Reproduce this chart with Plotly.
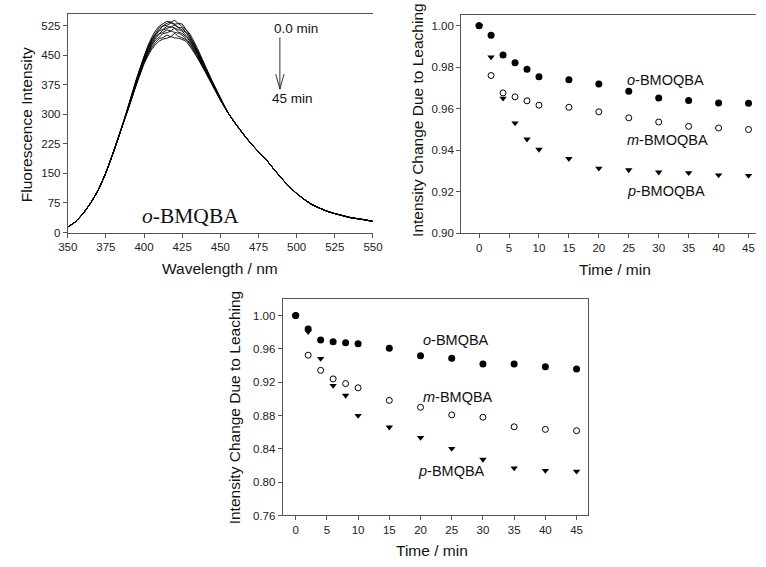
import plotly.graph_objects as go

W, H = 766, 567

# ---------------- data ----------------
# Panel A: fluorescence spectra of o-BMQBA (0 -> 45 min)
wl_left = [350, 355, 360, 365, 370, 375, 380, 385]
base_left = [14, 27, 48, 75, 108, 152, 205, 262]
wl_peak = [390, 395, 400, 402.5, 405, 407.5, 410, 412.5, 415, 417.5, 420,
           422.5, 425, 427.5, 430, 435, 440, 445, 450]
peak_curves = [
    [326, 390, 447, 474, 495, 512, 524, 530, 536, 534, 538, 531, 529, 515, 504, 467, 424, 382, 343],
    [324, 387, 446, 468, 491, 505, 520, 525, 531, 534, 529, 530, 522, 514, 499, 462, 421, 380, 341],
    [323, 386, 443, 467, 487, 503, 514, 524, 526, 531, 528, 521, 519, 508, 497, 460, 420, 379, 340],
    [322, 384, 440, 465, 485, 500, 512, 516, 523, 521, 526, 520, 514, 507, 493, 458, 418, 378, 340],
    [321, 383, 438, 462, 481, 497, 505, 514, 518, 522, 519, 515, 511, 500, 489, 455, 416, 376, 339],
    [320, 381, 436, 458, 478, 492, 504, 508, 514, 512, 518, 509, 505, 497, 486, 452, 414, 375, 338],
    [319, 379, 434, 455, 474, 488, 496, 505, 507, 511, 508, 506, 501, 492, 481, 449, 412, 374, 337],
    [318, 377, 431, 452, 469, 482, 492, 495, 501, 497, 505, 498, 494, 489, 478, 446, 410, 373, 337],
    [317, 375, 428, 448, 465, 477, 486, 491, 493, 497, 494, 493, 490, 485, 473, 443, 408, 372, 336],
]
wl_right = [455, 460, 465, 470, 475, 480, 485, 490, 495, 500, 505, 510, 515,
            520, 525, 530, 535, 540, 545, 550]
base_right = [304, 276, 250, 226, 205, 185, 161, 138, 117, 99, 84, 71, 62,
              54, 48, 43, 38, 35, 32, 28]

# Panel B: BMOQBA leaching
time = [0, 2, 4, 6, 8, 10, 15, 20, 25, 30, 35, 40, 45]
o_bmoqba = [1.000, 0.9954, 0.9859, 0.9822, 0.9790, 0.9754, 0.9739, 0.9719,
            0.9684, 0.9652, 0.9639, 0.9628, 0.9626]
m_bmoqba = [1.000, 0.9760, 0.9676, 0.9657, 0.9638, 0.9617, 0.9607, 0.9585,
            0.9556, 0.9536, 0.9515, 0.9507, 0.9500]
p_bmoqba = [1.000, 0.9849, 0.9650, 0.9531, 0.9453, 0.9404, 0.9359, 0.9313,
            0.9305, 0.9294, 0.9291, 0.9280, 0.9278]

# Panel C: BMQBA leaching
o_bmqba = [1.000, 0.9838, 0.9707, 0.9687, 0.9675, 0.9663, 0.9608, 0.9517,
           0.9489, 0.9418, 0.9418, 0.9386, 0.9358]
m_bmqba = [1.000, 0.9525, 0.9343, 0.9240, 0.9184, 0.9133, 0.8982, 0.8899,
           0.8808, 0.8780, 0.8665, 0.8634, 0.8618]
p_bmqba = [1.000, 0.9806, 0.9485, 0.9160, 0.9042, 0.8800, 0.8661, 0.8535,
           0.8404, 0.8273, 0.8170, 0.8139, 0.8131]

spec_xticks = [350, 375, 400, 425, 450, 475, 500, 525, 550]
spec_yticks = [0, 75, 150, 225, 300, 375, 450, 525]
time_ticks = [0, 5, 10, 15, 20, 25, 30, 35, 40, 45]
b_yticks = [0.90, 0.92, 0.94, 0.96, 0.98, 1.00]
c_yticks = [0.76, 0.80, 0.84, 0.88, 0.92, 0.96, 1.00]

# ---------------- figure ----------------
def px_x(p):
    return p / W

def px_y(p):
    return 1 - p / H

fig = go.Figure()

# spectra
for pc in peak_curves:
    fig.add_trace(go.Scatter(
        x=wl_left + wl_peak + wl_right,
        y=base_left + pc + base_right,
        mode="lines", line=dict(color="black", width=1, shape="spline", smoothing=0.5),
        xaxis="x", yaxis="y", showlegend=False, hoverinfo="skip"))

mk_line = dict(color="black", width=1)
def add_series(xa, ya, t, o, m, p):
    fig.add_trace(go.Scatter(x=t, y=m, mode="markers", xaxis=xa, yaxis=ya,
                             marker=dict(symbol="circle", size=6, color="white", line=mk_line),
                             showlegend=False))
    fig.add_trace(go.Scatter(x=t, y=o, mode="markers", xaxis=xa, yaxis=ya,
                             marker=dict(symbol="circle", size=7, color="black", line=dict(width=0)),
                             showlegend=False))
    fig.add_trace(go.Scatter(x=t, y=p, mode="markers", xaxis=xa, yaxis=ya,
                             marker=dict(symbol="triangle-down", size=6.5, color="black", line=dict(width=0)),
                             showlegend=False))

add_series("x2", "y2", time, o_bmoqba, m_bmoqba, p_bmoqba)
add_series("x3", "y3", time, o_bmqba, m_bmqba, p_bmqba)

axcol = "#555555"
tickfont = dict(family="Liberation Sans, Arial, sans-serif", size=11.5, color="#222222")
common = dict(showgrid=False, zeroline=False, showline=True, linecolor=axcol, linewidth=1,
              ticks="outside", ticklen=4, tickcolor=axcol, tickwidth=1, tickfont=tickfont)

fig.update_layout(
    width=W, height=H, margin=dict(l=0, r=0, t=0, b=0),
    paper_bgcolor="white", plot_bgcolor="white",
    xaxis=dict(domain=[px_x(59.3), px_x(372.7)], range=[350, 550], tickvals=spec_xticks,
               anchor="y", mirror=True, **common),
    yaxis=dict(domain=[px_y(235), px_y(14)], range=[0, 555], tickvals=spec_yticks,
               anchor="x", **common),
    xaxis2=dict(domain=[px_x(463.3), 1.0], range=[-2.99, 46.25], tickvals=time_ticks,
                anchor="y2", mirror=True, **common),
    yaxis2=dict(domain=[px_y(235.7), px_y(15.5)], range=[0.90, 1.005], tickvals=b_yticks,
                tickformat=".2f", anchor="x2", **common),
    xaxis3=dict(domain=[px_x(280), px_x(593.3)], range=[-2.08, 46.8], tickvals=time_ticks,
                anchor="y3", mirror=True, **common),
    yaxis3=dict(domain=[px_y(521), px_y(302.5)], range=[0.76, 1.0196], tickvals=c_yticks,
                tickformat=".2f", anchor="x3", mirror=True, **common),
)

sans = "Liberation Sans, Arial, sans-serif"
title_font = dict(family=sans, size=15.5, color="#111111")
ann = []
# axis titles
ann.append(dict(text="Fluorescence Intensity", x=px_x(17.2), y=px_y(125.8), textangle=-90))
ann.append(dict(text="Wavelength / nm", x=px_x(215.8), y=px_y(271.7)))
ann.append(dict(text="Intensity Change Due to Leaching", x=px_x(418.3), y=px_y(120.8), textangle=-90))
ann.append(dict(text="Time / min", x=px_x(620.8), y=px_y(272.7)))
ann.append(dict(text="Intensity Change Due to Leaching", x=px_x(230), y=px_y(411.7), textangle=-90))
ann.append(dict(text="Time / min", x=px_x(433.3), y=px_y(556.7)))
for a in ann:
    a.update(xref="paper", yref="paper", showarrow=False, font=title_font,
             xanchor="center", yanchor="middle")

lab_font = dict(family=sans, size=14.5, color="#111111")
# series labels, panels B and C
ann += [
    dict(text="<i>o</i>-BMOQBA", x=24.4, y=0.9738, xref="x2", yref="y2"),
    dict(text="<i>m</i>-BMOQBA", x=24.4, y=0.9448, xref="x2", yref="y2"),
    dict(text="<i>p</i>-BMOQBA", x=24.4, y=0.9202, xref="x2", yref="y2"),
    dict(text="<i>o</i>-BMQBA", x=20.0, y=0.9711, xref="x3", yref="y3"),
    dict(text="<i>m</i>-BMQBA", x=20.0, y=0.9026, xref="x3", yref="y3"),
    dict(text="<i>p</i>-BMQBA", x=19.25, y=0.8139, xref="x3", yref="y3"),
]
for a in ann[6:]:
    a.update(showarrow=False, font=lab_font, xanchor="left", yanchor="middle")

ann += [
    dict(text="<i>o</i>-BMQBA", x=430.2, y=42, xref="x", yref="y", showarrow=False,
         font=dict(family="Liberation Serif, Times New Roman, serif", size=21.5, color="#111111"),
         xanchor="center", yanchor="middle"),
    dict(text="0.0 min", x=499.6, y=519, xref="x", yref="y", showarrow=False,
         font=dict(family=sans, size=13.5, color="#111111"), xanchor="center", yanchor="middle"),
    dict(text="45 min", x=497, y=339, xref="x", yref="y", showarrow=False,
         font=dict(family=sans, size=13.5, color="#111111"), xanchor="center", yanchor="middle"),
]
fig.update_layout(annotations=ann)

# arrow 0.0 min -> 45 min
arrow_col = "#333333"
fig.add_shape(type="line", xref="x", yref="y", x0=489, y0=495, x1=489, y1=364,
              line=dict(color=arrow_col, width=1))
fig.add_shape(type="line", xref="x", yref="y", x0=486.3, y0=402, x1=489, y1=364,
              line=dict(color=arrow_col, width=1))
fig.add_shape(type="line", xref="x", yref="y", x0=491.7, y0=402, x1=489, y1=364,
              line=dict(color=arrow_col, width=1))

fig.write_html("out.html")
